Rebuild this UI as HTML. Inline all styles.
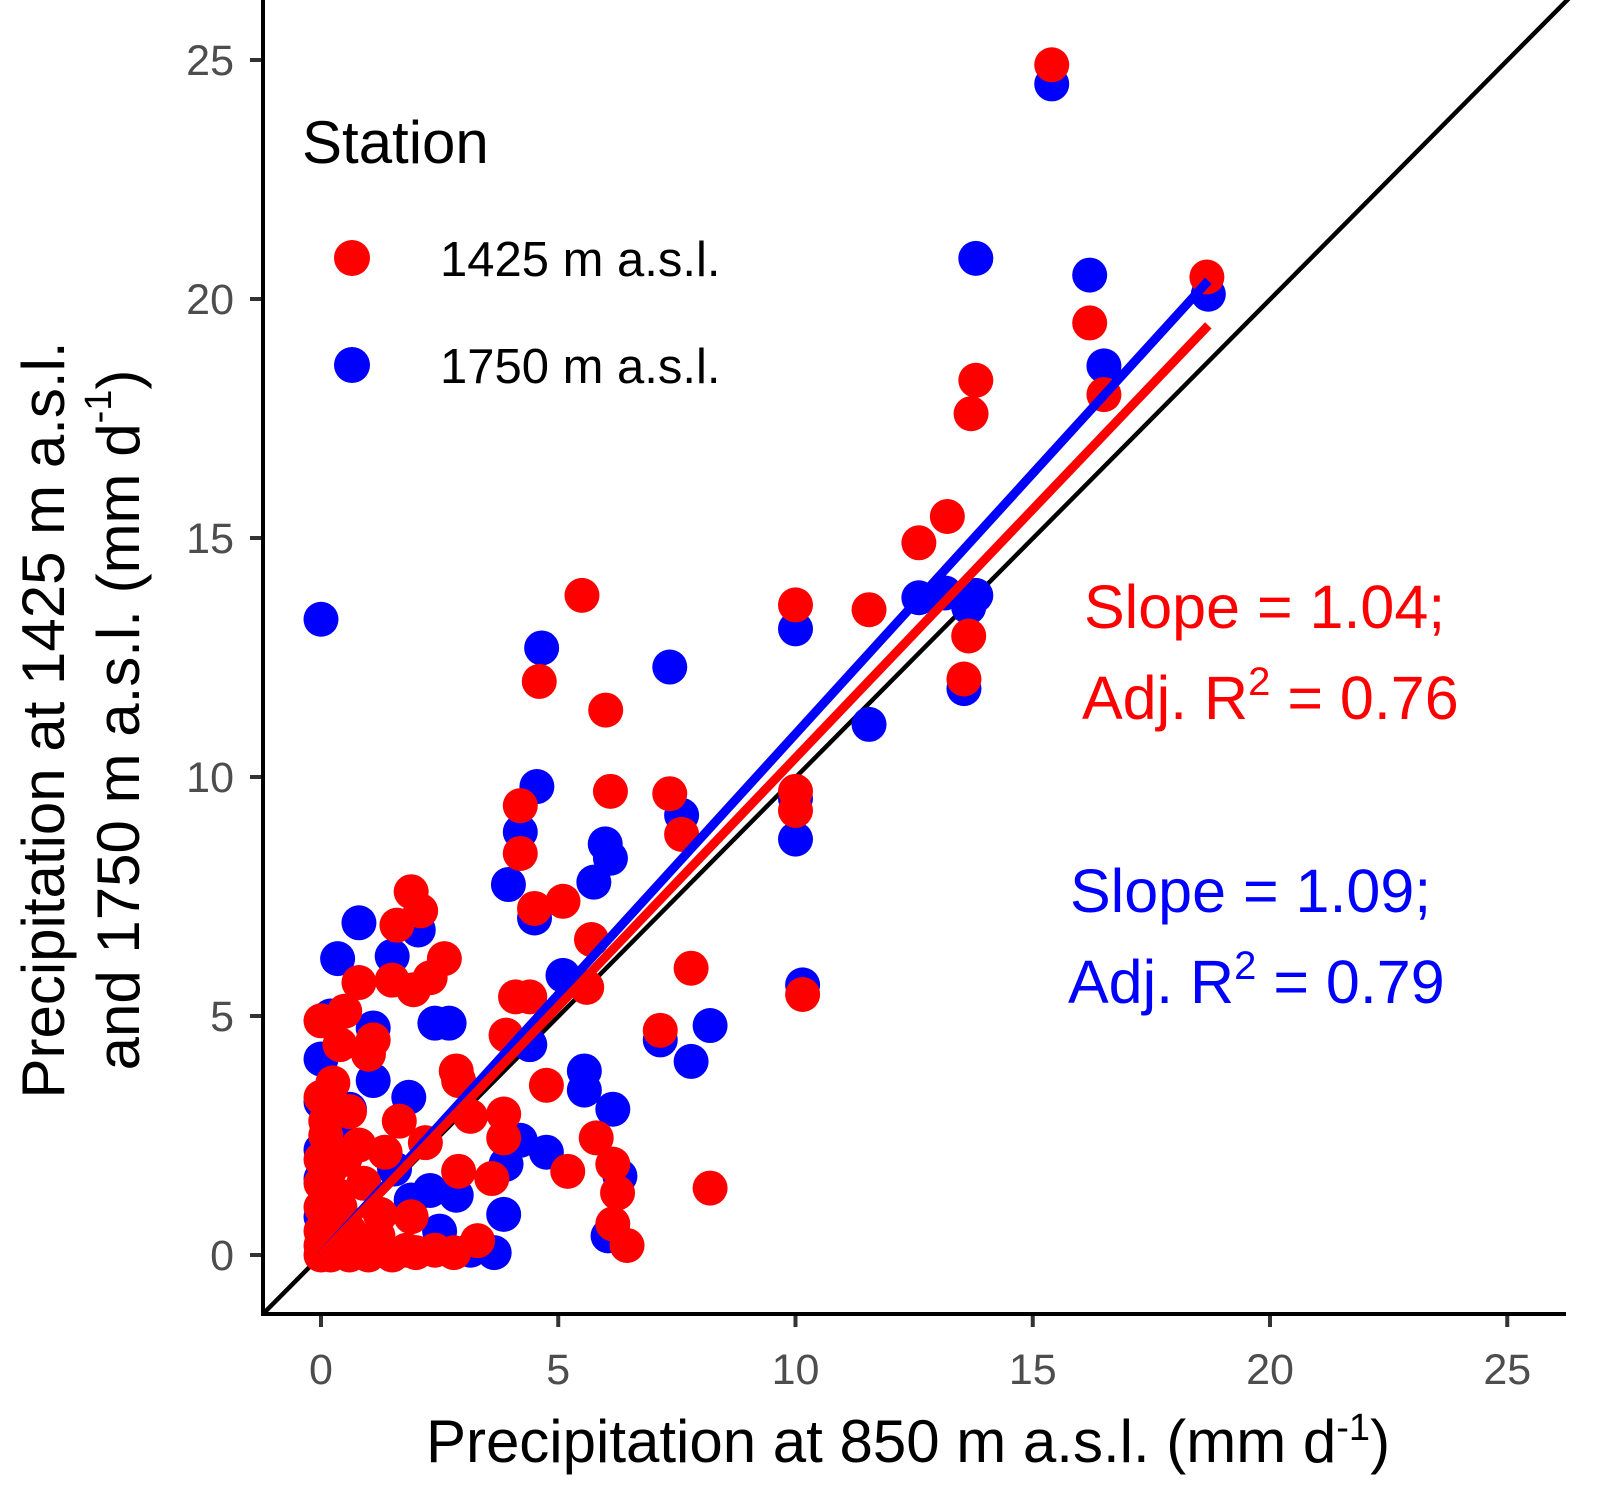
<!DOCTYPE html>
<html><head><meta charset="utf-8"><style>
html,body{margin:0;padding:0;background:#fff;width:1602px;height:1508px;overflow:hidden;}
svg{display:block;font-family:"Liberation Sans",Arial,sans-serif;position:absolute;left:0;top:0;}
</style></head><body>
<svg id="c" width="1602" height="1508" viewBox="0 0 1602 1508"></svg>
<script>
const xTicks=[0,5,10,15,20,25];
const yTicks=[0,5,10,15,20,25];
const redX=[15.4,18.67,16.2,13.8,13.7,16.5,13.2,12.6,5.5,10.0,11.55,13.65,13.55,4.6,6.0,4.2,6.1,7.35,7.6,10,10,4.2,1.9,2.1,1.6,4.5,5.1,5.7,7.8,2.6,0.8,1.5,1.95,2.3,5.6,4.1,4.4,10.15,7.15,3.9,0,0.5,0.4,1.1,1.0,2.85,2.9,0.25,4.75,0.6,0.1,1.65,3.15,3.85,3.85,5.8,6.15,5.2,2.9,3.6,6.25,8.2,6.15,6.45,0.8,2.2,1.35,0,0,0,0,0,0,1.25,1.9,0.35,0.6,0.2,0.6,1.0,1.5,2.0,2.4,2.8,3.3,0.8,1.8,0,0.3,0.1,0.5,0.2,0.9,0.4,0.1,0.7,1.2];
const redY=[24.9,20.46,19.5,18.3,17.6,18.0,15.45,14.9,13.8,13.6,13.5,12.95,12.05,12.0,11.4,9.4,9.7,9.65,8.8,9.7,9.3,8.4,7.6,7.2,6.9,7.25,7.4,6.6,6.0,6.2,5.7,5.75,5.55,5.8,5.6,5.4,5.4,5.45,4.7,4.6,4.9,5.1,4.4,4.5,4.2,3.85,3.65,3.6,3.55,3.0,2.8,2.8,2.9,2.95,2.45,2.45,1.9,1.75,1.75,1.6,1.3,1.4,0.65,0.2,2.3,2.35,2.15,2.0,1.5,1.0,0.5,0.2,0,0.85,0.8,1.25,0.5,0,0,0,0,0.05,0.1,0.05,0.3,0.1,0.1,3.3,3.1,2.5,2.0,1.8,1.5,1.0,0.6,0.3,0.4];
const blueX=[15.4,18.7,13.8,16.2,16.5,0,4.65,7.35,10,11.55,12.6,13.15,13.8,13.65,13.55,4.55,4.2,7.6,5.99,6.1,10,10,3.95,5.75,4.5,0.8,2.05,0.35,1.5,5.1,10.15,8.2,7.8,7.15,2.4,2.7,0.2,1.1,4.4,1.1,1.85,5.55,5.55,6.15,4.75,4.2,3.9,6.3,2.85,2.3,3.85,6.05,3.65,3.15,2.5,1.25,0.2,0,0,0,0,0.6,0.4,1.55,1.9,0,0.3];
const blueY=[24.5,20.1,20.85,20.5,18.6,13.3,12.7,12.3,13.1,11.1,13.75,13.85,13.8,13.55,11.85,9.8,8.85,9.2,8.6,8.3,8.7,9.55,7.75,7.8,7.05,6.95,6.8,6.2,6.25,5.85,5.65,4.8,4.05,4.5,4.85,4.85,5.0,4.75,4.4,3.65,3.3,3.85,3.45,3.05,2.15,2.4,1.9,1.65,1.25,1.35,0.85,0.4,0.05,0.1,0.5,0.1,1.15,1.6,2.2,3.2,4.1,3.05,2.4,1.8,1.15,0.8,0.2];
const slopes=[1.04,1.09];
const xMaxFit=[18.7,18.7];

const NS="http://www.w3.org/2000/svg";
const svg=document.getElementById('c');
const sx=v=>321+v*47.45;
const sy=v=>1255-v*47.8;
function mk(tag,attrs,text){const e=document.createElementNS(NS,tag);for(const k in attrs)e.setAttribute(k,attrs[k]);if(text!==undefined)e.textContent=text;svg.appendChild(e);return e;}

let d=mk('line',{x1:sx(-1.22),y1:sy(-1.23),x2:sx(26.3),y2:sy(26.3+(-1.23+1.22)),stroke:'#000','stroke-width':4.5});



blueX.forEach((x,i)=>{const c=mk('circle',{cx:sx(x),cy:sy(blueY[i]),r:17.5,fill:'#0000ff'});

});
redX.forEach((x,i)=>{const c=mk('circle',{cx:sx(x),cy:sy(redY[i]),r:17.5,fill:'#ff0000'});

});

const cols=['#ff0000','#0000ff'];
[1,0].forEach(i=>{const l=mk('line',{x1:sx(0),y1:sy(0),x2:sx(xMaxFit[i]),y2:sy(xMaxFit[i]*slopes[i]),stroke:cols[i],'stroke-width':9});

});

let ax=mk('line',{x1:263,y1:0,x2:263,y2:1316,stroke:'#000','stroke-width':4});


ax=mk('line',{x1:261,y1:1314,x2:1566,y2:1314,stroke:'#000','stroke-width':4});



xTicks.forEach(t=>{const l=mk('line',{x1:sx(t),y1:1316,x2:sx(t),y2:1327,stroke:'#333','stroke-width':4});


const tx=mk('text',{x:sx(t),y:1384,'text-anchor':'middle','font-size':43,fill:'#4d4d4d'},String(t));

});
yTicks.forEach(t=>{const l=mk('line',{x1:250,y1:sy(t),x2:261,y2:sy(t),stroke:'#333','stroke-width':4});


const tx=mk('text',{x:234,y:sy(t)+15,'text-anchor':'end','font-size':43,fill:'#4d4d4d'},String(t));

});
</script>
<svg width="1602" height="1508" font-family="Liberation Sans, Arial, sans-serif">
<text x="908" y="1462" text-anchor="middle" font-size="60">Precipitation at 850 m a.s.l. (mm d<tspan dy="-22" font-size="38">-1</tspan><tspan dy="22">)</tspan></text>
<g transform="translate(48,720) rotate(-90)">
<text x="0" y="0" text-anchor="middle" font-size="60" dominant-baseline="middle">Precipitation at 1425 m a.s.l.</text>
<text x="0" y="75" text-anchor="middle" font-size="60" dominant-baseline="middle">and 1750 m a.s.l. (mm d<tspan dy="-22" font-size="38">-1</tspan><tspan dy="22">)</tspan></text>
</g>
<text x="302" y="163" font-size="60">Station</text>
<circle cx="352" cy="258" r="18" fill="#ff0000"/>
<text x="440" y="276" font-size="49">1425 m a.s.l.</text>
<circle cx="352" cy="365" r="18" fill="#0000ff"/>
<text x="440" y="383" font-size="49">1750 m a.s.l.</text>
<g fill="#ff0000" font-size="61">
<text x="1084" y="628">Slope = 1.04;</text>
<text x="1082" y="719">Adj. R<tspan dy="-24" font-size="40">2</tspan><tspan dy="24"> = 0.76</tspan></text>
</g>
<g fill="#0000ff" font-size="61">
<text x="1070" y="912">Slope = 1.09;</text>
<text x="1068" y="1003">Adj. R<tspan dy="-24" font-size="40">2</tspan><tspan dy="24"> = 0.79</tspan></text>
</g>
</svg>
</body></html>
